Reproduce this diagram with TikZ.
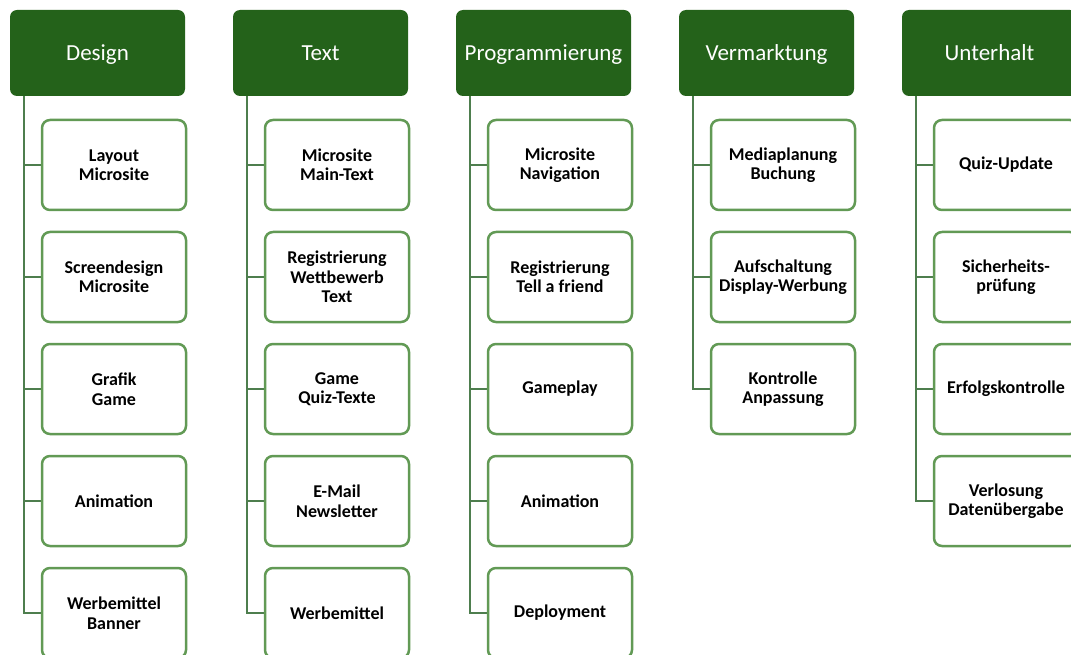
\documentclass[tikz,border=0pt]{standalone}
\usepackage{fontspec}
\setmainfont{Carlito}
\usetikzlibrary{backgrounds}
\definecolor{headgreen}{HTML}{24621A}
\definecolor{boxgreen}{HTML}{629A55}
\definecolor{linegreen}{HTML}{4E7E4E}
\tikzset{
  head/.style={fill=headgreen, rounded corners=7pt, minimum width=175pt, minimum height=86pt,
    inner sep=0pt, text height=19pt, text depth=4pt, text=white, font=\fontsize{23}{25}\selectfont},
  task/.style={draw=boxgreen, line width=2.5pt, fill=white, rounded corners=8pt,
    minimum width=144pt, minimum height=90pt, inner sep=0pt, align=center,
    font=\bfseries\fontsize{18}{19.5}\selectfont},
  tree/.style={draw=linegreen, line width=2.5pt}
}
\begin{document}
\begin{tikzpicture}[x=1pt, y=-1pt, line join=round]
  \useasboundingbox (0,0) rectangle (1071,655);
  \clip (0,0) rectangle (1071,655);
  % Kopfzeile
  \foreach \i/\name in {0/Design,1/Text,2/Programmierung,3/Vermarktung,4/Unterhalt}
    \node[head] (h\i) at (97.5+223*\i,53) {\name};
  % Design
  \node[task] (t0-0) at (114,165) {Layout\\Microsite};
  \node[task] (t0-1) at (114,277) {Screendesign\\Microsite};
  \node[task] (t0-2) at (114,389) {Grafik\\Game};
  \node[task] (t0-3) at (114,501) {Animation};
  \node[task] (t0-4) at (114,613) {Werbemittel\\Banner};
  % Text
  \node[task] (t1-0) at (337,165) {Microsite\\Main-Text};
  \node[task] (t1-1) at (337,277) {Registrierung\\Wettbewerb\\Text};
  \node[task] (t1-2) at (337,389) {Game\\Quiz-Texte};
  \node[task] (t1-3) at (337,501) {E-Mail\\Newsletter};
  \node[task] (t1-4) at (337,613) {Werbemittel};
  % Programmierung
  \node[task] (t2-0) at (560,165) {Microsite\\Navigation};
  \node[task] (t2-1) at (560,277) {Registrierung\\Tell a friend};
  \node[task] (t2-2) at (560,389) {Gameplay};
  \node[task] (t2-3) at (560,501) {Animation};
  \node[task] (t2-4) at (560,613) {Deployment};
  % Vermarktung
  \node[task] (t3-0) at (783,165) {Mediaplanung\\Buchung};
  \node[task] (t3-1) at (783,277) {Aufschaltung\\Display-Werbung};
  \node[task] (t3-2) at (783,389) {Kontrolle\\Anpassung};
  % Unterhalt
  \node[task] (t4-0) at (1006,165) {Quiz-Update};
  \node[task] (t4-1) at (1006,277) {Sicherheits-\\prüfung};
  \node[task] (t4-2) at (1006,389) {Erfolgskontrolle};
  \node[task] (t4-3) at (1006,501) {Verlosung\\Datenübergabe};
  % Verbindungen
  \begin{scope}[on background layer]
    \foreach \i/\n in {0/4,1/4,2/4,3/2,4/3} {
      \coordinate (s\i) at (24+223*\i,96);
      \foreach \k in {0,...,\n}
        \draw[tree] (s\i) |- (t\i-\k.west);
    }
  \end{scope}
\end{tikzpicture}
\end{document}
